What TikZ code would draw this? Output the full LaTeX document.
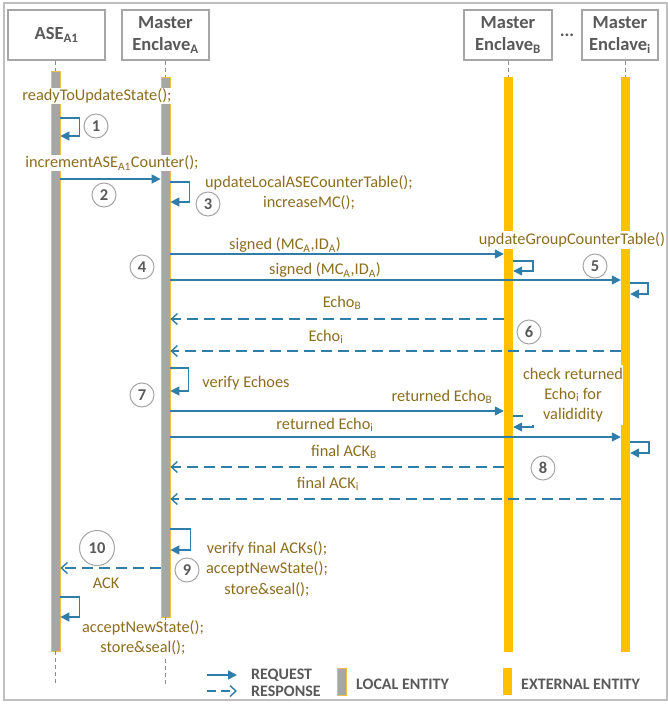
\documentclass[tikz,border=0pt]{standalone}
\usepackage{fontspec}
\setmainfont{Carlito}
\usetikzlibrary{arrows.meta}
\definecolor{txtc}{HTML}{8C6D1F}
\definecolor{arrc}{HTML}{2F7EA9}
\definecolor{hdrc}{HTML}{595959}
\definecolor{frmc}{HTML}{BFBFBF}
\definecolor{boxc}{HTML}{A6A6A6}
\definecolor{barg}{HTML}{A6A6A6}
\definecolor{bary}{HTML}{FFC000}
\definecolor{barb}{HTML}{EDBE4C}
\tikzset{
  hdr/.style={draw=boxc, line width=1.4pt, fill=white, minimum height=50pt, align=center,
    text=hdrc, font=\fontsize{18.5}{21.5}\selectfont\bfseries, inner sep=0pt},
  lbar/.style={fill=barg, draw=barb, line width=0.8pt, minimum width=9pt, inner sep=0pt},
  xbar/.style={fill=bary, draw=none, minimum width=9pt, inner sep=0pt},
  lifeline/.style={draw=hdrc!70, line width=0.8pt, dash pattern=on 4pt off 3pt},
  lbl/.style={text=txtc, font=\fontsize{16.3}{20.3}\selectfont, fill=white, inner sep=1pt, align=center},
  req/.style={draw=arrc, line width=1.5pt, -{Triangle[length=9pt,width=9pt]}},
  rsp/.style={draw=arrc, line width=1.5pt, dash pattern=on 11pt off 6pt,
    -{Straight Barb[length=6pt,width=11pt,line width=1.4pt]}},
  num/.style={circle, draw=boxc, line width=1pt, fill=white, minimum size=24pt, inner sep=0pt,
    text=hdrc, font=\fontsize{16.5}{16.5}\selectfont\bfseries},
  legtxt/.style={text=hdrc, font=\fontsize{16}{16}\selectfont\bfseries, inner sep=0pt, anchor=west}
}
\begin{document}
\begin{tikzpicture}[x=1pt,y=-1pt]
\useasboundingbox (0,0) rectangle (668,704);
% outer frame
\draw[frmc, line width=1.4pt] (4,3) rectangle (667,700);

% participants
\node[hdr, minimum width=97pt] (hase) at (56.5,35) {ASE\textsubscript{A1}};
\node[hdr, minimum width=87pt] (hea) at (165.5,35) {Master\\Enclave\textsubscript{A}};
\node[hdr, minimum width=88pt] (heb) at (508,35) {Master\\Enclave\textsubscript{B}};
\node[hdr, minimum width=76pt] (hei) at (620,35) {Master\\Enclave\textsubscript{i}};
\node[text=hdrc, font=\fontsize{18}{18}\selectfont\bfseries] (dots) at (567,35) {...};

% activation bars
\node[lbar, minimum height=580pt] (ase) at (55.5,361) {};
\node[lbar, minimum height=540pt] (ea) at (165.5,347) {};
\node[xbar, minimum height=575pt] (eb) at (508.5,364.5) {};
\node[xbar, minimum height=575pt] (ei) at (625.5,364.5) {};

% lifelines
\draw[lifeline] (hase.south -| ase) -- (ase.north);
\draw[lifeline] (hea.south -| ea) -- (ea.north);
\draw[lifeline] (heb.south -| eb) -- (eb.north);
\draw[lifeline] (hei.south -| ei) -- (ei.north);
\coordinate (endline) at (0,685);
\draw[lifeline] (ase.south) -- (endline -| ase);
\draw[lifeline] (ea.south) -- (endline -| ea);

% step 1
\node[lbl] (t1) at (97,96) {readyToUpdateState();};
\draw[req] (ase.east |- 0,118) -- ++(19,0) -- ++(0,18) -- (ase.east |- 0,136);
\node[num] (n1) at (96,126) {1};

% step 2
\node[lbl] (t2) at (112,163) {incrementASE\textsubscript{A1}Counter();};
\draw[req] (ase.east |- 0,179) -- (ea.west |- 0,179);
\node[num] (n2) at (104,195) {2};

% step 3
\draw[req] (ea.east |- 0,182) -- ++(19,0) -- ++(0,20) -- (ea.east |- 0,202);
\node[lbl, fill=none] (t3) at (309,193) {updateLocalASECounterTable();\\increaseMC();};
\node[num] (n3) at (208,204) {3};

% step 4
\node[lbl] (t4a) at (285,245) {signed (MC\textsubscript{A},ID\textsubscript{A})};
\draw[req] (ea.east |- 0,254) -- (eb.west |- 0,254);
\node[lbl] (t4b) at (325,270) {signed (MC\textsubscript{A},ID\textsubscript{A})};
\draw[req] (ea.east |- 0,280) -- (ei.west |- 0,280);
\node[num] (n4) at (142,267) {4};

% step 5
\node[lbl, inner ysep=2pt] (t5) at (572,240) {updateGroupCounterTable()};
\draw[req] (eb.east |- 0,261) -- ++(20,0) -- ++(0,10) -- (eb.east |- 0,271);
\draw[req] (ei.east |- 0,283) -- ++(18,0) -- ++(0,11) -- (ei.east |- 0,294);
\node[num] (n5) at (595,266) {5};

% step 6
\node[lbl] (t6a) at (342,303) {Echo\textsubscript{B}};
\draw[rsp] (eb.west |- 0,319) -- (ea.east |- 0,319);
\node[lbl] (t6b) at (326,337) {Echo\textsubscript{i}};
\draw[rsp] (ei.west |- 0,351) -- (ea.east |- 0,351);
\node[num] (n6) at (529,332) {6};

% step 7
\draw[req] (ea.east |- 0,368) -- ++(18,0) -- ++(0,23) -- (ea.east |- 0,391);
\node[lbl] (t7) at (246,383) {verify Echoes};
\node[num] (n7) at (142,395) {7};
\node[lbl] (t7a) at (442,397) {returned Echo\textsubscript{B}};
\draw[req] (ea.east |- 0,411) -- (eb.west |- 0,411);
\node[lbl] (t7b) at (325,425) {returned Echo\textsubscript{i}};
\draw[req] (ea.east |- 0,437) -- (ei.west |- 0,437);

% validity check at the external enclaves
\draw[req] (eb.east |- 0,416) -- ++(20,0) -- ++(0,11) -- (eb.east |- 0,427);
\node[lbl, inner xsep=0pt, inner ysep=3pt] (t8c) at (573,395) {check returned\\Echo\textsubscript{i} for\\valididity};
\draw[req] (ei.east |- 0,442) -- ++(19,0) -- ++(0,11) -- (ei.east |- 0,453);

% step 8
\node[lbl] (t8a) at (344,452) {final ACK\textsubscript{B}};
\draw[rsp] (eb.west |- 0,467) -- (ea.east |- 0,467);
\node[lbl] (t8b) at (328,484) {final ACK\textsubscript{i}};
\draw[rsp] (ei.west |- 0,499) -- (ea.east |- 0,499);
\node[num] (n8) at (543,468) {8};

% step 9
\draw[req] (ea.east |- 0,529) -- ++(20,0) -- ++(0,21) -- (ea.east |- 0,550);
\node[lbl] (t9) at (267,569) {verify final ACKs();\\acceptNewState();\\store\&seal();};
\node[num] (n9) at (187,570) {9};

% step 10
\node[num, minimum size=35pt] (n10) at (97,548) {10};
\draw[rsp] (ea.west |- 0,568) -- (ase.east |- 0,568);
\node[lbl] (tack) at (106,583) {ACK};
\draw[req] (ase.east |- 0,597) -- ++(19,0) -- ++(0,20) -- (ase.east |- 0,617);
\node[lbl] (t10) at (143,638) {acceptNewState();\\store\&seal();};

% legend
\coordinate (lq0) at (207,675);
\coordinate (lq1) at (237,675);
\coordinate (lr0) at (207,691);
\coordinate (lr1) at (237,691);
\draw[req] (lq0) -- (lq1);
\draw[rsp, dash pattern=on 9pt off 5pt] (lr0) -- (lr1);
\node[legtxt] (lreq) at (251,675) {REQUEST};
\node[legtxt] (lrsp) at (251,691) {RESPONSE};
\node[lbar, minimum height=27pt] (llocal) at (341.5,681.5) {};
\node[legtxt] (lloc) at (356,684) {LOCAL ENTITY};
\node[xbar, minimum height=27pt] (lext) at (507.5,681.5) {};
\node[legtxt] (lexttxt) at (521,684) {EXTERNAL ENTITY};
\end{tikzpicture}
\end{document}
